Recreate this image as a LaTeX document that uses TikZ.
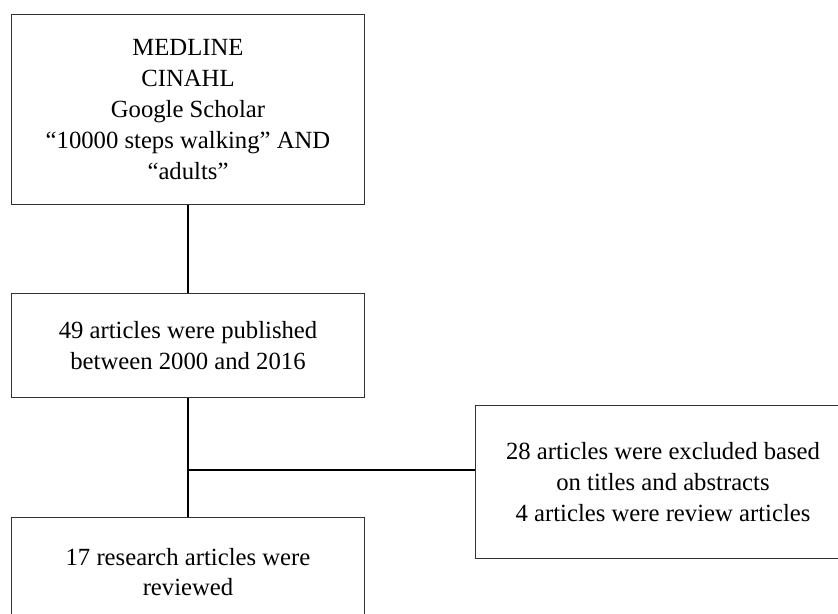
\documentclass[tikz,border=0pt]{standalone}
\usepackage{fontspec}
\setmainfont{Liberation Serif}

\begin{document}
\begin{tikzpicture}[x=0.486pt,y=-0.486pt,
  stagebox/.style={draw=black!80,line width=0.5pt,fill=white,align=center,
    inner sep=0pt,font=\fontsize{12}{15}\selectfont},
  joinline/.style={black,line width=0.6pt}]
\useasboundingbox (0.000,0.000) rectangle (838.000,614.000);
\clip (0.000,0.000) rectangle (838.000,614.000);
\node[stagebox,minimum width=171.1pt,minimum height=92.8pt] (search) at (188.000,109.500)
  {MEDLINE\\CINAHL\\Google Scholar\\“10000 steps walking” AND\\“adults”};
\node[stagebox,minimum width=171.1pt,minimum height=51.0pt] (found) at (188.000,345.500)
  {49 articles were published\\between 2000 and 2016};
\node[stagebox,minimum width=171.1pt,minimum height=52.5pt] (reviewed) at (188.000,572.000)
  {17 research articles were\\reviewed};
\node[stagebox,minimum width=181.8pt,minimum height=73.9pt] (excluded) at (663.000,482.000)
  {28 articles were excluded based\\on titles and abstracts\\4 articles were review articles};
\coordinate (split) at (188.000,470.000);
\draw[joinline] (search.south) -- (found.north);
\draw[joinline] (found.south) -- (reviewed.north);
\draw[joinline] (split) -- (split -| excluded.west);
\end{tikzpicture}
\end{document}
